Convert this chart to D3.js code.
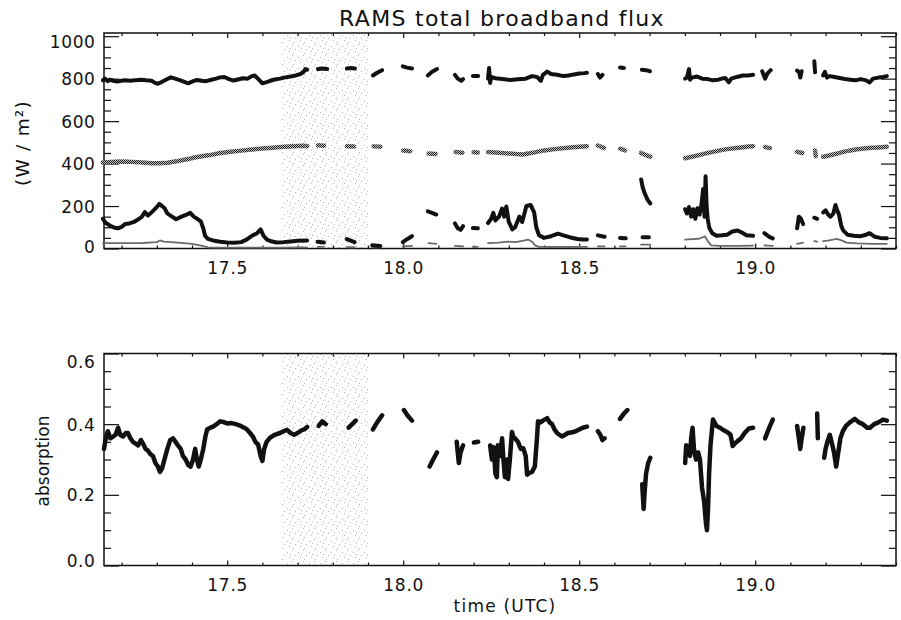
<!DOCTYPE html>
<html>
<head>
<meta charset="utf-8">
<script src="https://cdn.jsdelivr.net/npm/d3@7"></script>
<style>
  html, body { margin: 0; padding: 0; background: #fff; }
  svg { display: block; }
  text { font-family: "DejaVu Sans", sans-serif; fill: #111; }
</style>
</head>
<body>
<svg id="chart" width="901" height="620"></svg>
<script>
// Flux series as [hour UTC, W/m^2]; null marks a gap in the record.
const downAbove = [
  [17.147,792],[17.153,800],[17.161,788],[17.167,795],[17.176,790],[17.187,786],[17.195,789],[17.210,792],
  [17.225,790],[17.240,793],[17.255,795],[17.270,792],[17.285,790],[17.295,780],[17.303,776],[17.315,785],
  [17.330,798],[17.340,806],[17.352,800],[17.365,793],[17.378,785],[17.389,778],[17.400,786],[17.414,794],
  [17.428,790],[17.440,788],[17.455,795],[17.468,800],[17.480,806],[17.492,808],[17.505,798],[17.518,791],
  [17.530,796],[17.545,802],[17.558,800],[17.570,812],[17.578,815],[17.590,795],[17.600,778],[17.612,784],
  [17.622,790],[17.635,796],[17.650,800],[17.665,806],[17.680,810],[17.695,815],[17.708,822],[17.716,830],
  [17.722,845],[17.727,842],
  null,[17.758,845],[17.769,848],[17.784,845],
  null,[17.840,848],[17.852,850],[17.863,848],
  null,[17.914,815],[17.926,828],[17.940,840],
  null,[17.999,858],[18.011,852],[18.025,848],
  null,[18.070,815],[18.082,832],[18.096,845],
  null,[18.147,818],[18.155,800],[18.165,790],[18.170,798],
  null,[18.198,812],[18.213,812],
  null,[18.241,800],[18.244,850],[18.247,780],[18.250,808],[18.262,802],[18.282,798],[18.304,794],[18.326,797],
  [18.348,800],[18.366,812],[18.380,808],[18.391,790],[18.397,818],[18.409,833],[18.420,822],[18.437,818],
  [18.455,812],[18.470,815],[18.485,820],[18.500,824],[18.515,826],[18.522,828],
  null,[18.553,822],[18.559,805],[18.566,818],
  null,[18.616,852],[18.627,850],
  null,[18.678,842],[18.690,840],[18.701,835],
  null,[18.801,800],[18.806,805],[18.812,845],[18.815,795],[18.820,805],[18.835,810],[18.850,800],[18.865,798],
  [18.880,792],[18.895,795],[18.905,800],[18.915,803],[18.925,783],[18.932,800],[18.948,808],[18.965,815],
  [18.980,815],[18.994,818],
  null,[19.020,835],[19.028,800],[19.035,825],[19.044,840],
  null,[19.119,838],[19.125,830],[19.128,805],[19.132,835],
  null,[19.168,882],[19.170,830],
  null,[19.193,815],[19.198,832],[19.204,805],[19.212,812],[19.225,808],[19.240,803],[19.255,798],[19.270,795],
  [19.285,792],[19.300,798],[19.315,792],[19.325,782],[19.335,800],[19.350,805],[19.363,808],[19.374,812]
];

const downBelow = [
  [17.147,405],[17.170,408],[17.200,410],[17.230,408],[17.260,405],[17.285,402],[17.303,401],[17.330,404],
  [17.360,412],[17.386,420],[17.410,430],[17.451,440],[17.480,450],[17.510,456],[17.540,461],[17.570,466],
  [17.600,471],[17.630,475],[17.660,479],[17.690,482],[17.710,484],[17.727,483],
  null,[17.758,486],[17.775,484],
  null,[17.840,482],[17.860,480],
  null,[17.916,481],[17.935,479],
  null,[18.000,462],[18.020,458],
  null,[18.072,447],[18.092,445],
  null,[18.149,454],[18.168,451],
  null,[18.200,453],[18.212,452],
  null,[18.241,454],[18.260,452],[18.280,450],[18.300,448],[18.320,445],[18.340,443],[18.355,447],[18.380,455],
  [18.400,462],[18.430,468],[18.460,473],[18.490,478],[18.522,482],
  null,[18.553,485],[18.570,474],
  null,[18.616,470],[18.630,462],
  null,[18.676,450],[18.690,440],[18.702,432],
  null,[18.801,425],[18.820,432],[18.840,440],[18.860,448],[18.880,455],[18.900,462],[18.920,468],[18.940,472],
  [18.960,476],[18.980,480],[18.994,482],
  null,[19.028,478],[19.042,473],
  null,[19.119,455],[19.134,450],
  null,[19.170,462],[19.172,435],
  null,[19.193,432],[19.210,438],[19.230,446],[19.250,455],[19.270,462],[19.290,467],[19.310,471],[19.330,474],
  [19.350,476],[19.374,479]
];

const upAbove = [
  [17.147,140],[17.155,120],[17.167,108],[17.180,98],[17.190,95],[17.200,102],[17.210,115],[17.222,118],
  [17.235,125],[17.250,140],[17.258,150],[17.266,172],[17.275,155],[17.288,175],[17.300,195],[17.307,210],
  [17.315,200],[17.322,190],[17.330,165],[17.345,148],[17.355,138],[17.370,150],[17.385,160],[17.395,168],
  [17.405,150],[17.415,140],[17.425,128],[17.432,95],[17.437,60],[17.445,45],[17.460,38],[17.480,32],
  [17.500,28],[17.520,27],[17.540,30],[17.555,42],[17.570,60],[17.585,72],[17.595,90],[17.603,60],
  [17.613,42],[17.625,34],[17.640,28],[17.660,30],[17.680,33],[17.700,36],[17.727,38],
  null,[17.757,32],[17.775,28],
  null,[17.840,44],[17.862,30],
  null,[17.912,15],[17.935,12],
  null,[17.999,30],[18.012,45],[18.025,58],
  null,[18.070,175],[18.082,168],[18.094,160],
  null,[18.147,118],[18.155,95],[18.163,88],[18.170,105],
  null,[18.198,96],[18.212,95],
  null,[18.241,120],[18.250,140],[18.256,168],[18.262,132],[18.272,150],[18.281,188],[18.287,150],[18.293,198],
  [18.300,125],[18.310,90],[18.318,100],[18.330,150],[18.338,125],[18.350,200],[18.362,205],[18.372,170],
  [18.378,100],[18.386,62],[18.400,50],[18.420,58],[18.440,70],[18.455,62],[18.475,52],[18.495,45],
  [18.510,42],[18.522,42],
  null,[18.553,62],[18.572,55],
  null,[18.616,50],[18.632,48],
  null,[18.676,325],[18.680,290],[18.686,260],[18.694,230],[18.702,212],
  null,[18.680,53],[18.698,53],
  null,[18.801,185],[18.806,165],[18.812,195],[18.818,150],[18.824,185],[18.830,140],[18.836,190],[18.842,160],
  [18.848,215],[18.852,280],[18.856,150],[18.859,340],[18.862,200],[18.865,140],[18.870,95],[18.878,72],
  [18.890,60],[18.905,62],[18.920,65],[18.935,80],[18.950,85],[18.962,75],[18.975,62],[18.994,60],
  null,[19.026,72],[19.040,55],[19.050,48],
  null,[19.119,95],[19.124,150],[19.130,140],[19.136,115],
  null,[19.168,145],[19.176,140],
  null,[19.193,170],[19.200,180],[19.207,160],[19.214,150],[19.222,165],[19.228,205],[19.233,180],[19.238,160],
  [19.244,110],[19.250,85],[19.262,65],[19.280,60],[19.300,58],[19.315,65],[19.325,72],[19.340,55],
  [19.355,50],[19.374,48]
];

const upBelow = [
  [17.147,25],[17.200,25],[17.260,26],[17.300,30],[17.309,38],[17.320,32],[17.360,28],[17.400,22],
  [17.430,12],[17.445,5],[17.480,4],[17.550,4],[17.650,4],[17.727,5],
  null,[17.757,8],[17.775,8],
  null,[17.840,6],[17.862,6],
  null,[17.912,6],[17.935,6],
  null,[17.999,10],[18.025,12],
  null,[18.072,25],[18.094,22],
  null,[18.147,12],[18.170,10],
  null,[18.198,8],[18.212,8],
  null,[18.241,25],[18.270,28],[18.298,32],[18.320,30],[18.345,38],[18.355,42],[18.366,32],[18.375,15],
  [18.385,8],[18.420,7],[18.470,7],[18.522,8],
  null,[18.553,10],[18.572,10],
  null,[18.616,10],[18.632,10],
  null,[18.676,18],[18.702,18],
  null,[18.801,42],[18.820,44],[18.840,46],[18.850,52],[18.857,58],[18.865,35],[18.875,15],[18.900,12],
  [18.950,12],[18.994,14],
  null,[19.026,15],[19.050,12],
  null,[19.119,22],[19.136,28],
  null,[19.168,35],[19.176,32],
  null,[19.193,35],[19.210,38],[19.232,45],[19.245,38],[19.260,28],[19.290,24],[19.330,22],[19.374,22]
];

// Layer absorption as [hour UTC, fraction].
const absorption = [
  [17.150,0.33],[17.155,0.36],[17.161,0.38],[17.168,0.36],[17.176,0.365],[17.183,0.37],[17.190,0.39],[17.196,0.37],
  [17.204,0.365],[17.212,0.375],[17.218,0.375],[17.225,0.36],[17.232,0.35],[17.240,0.345],[17.247,0.34],[17.255,0.355],
  [17.261,0.345],[17.268,0.33],[17.275,0.325],[17.282,0.315],[17.289,0.31],[17.296,0.29],[17.303,0.28],[17.309,0.265],
  [17.315,0.275],[17.323,0.305],[17.330,0.33],[17.338,0.355],[17.346,0.36],[17.353,0.35],[17.360,0.34],[17.368,0.33],
  [17.374,0.31],[17.382,0.30],[17.389,0.285],[17.396,0.28],[17.403,0.30],[17.409,0.33],[17.414,0.30],[17.419,0.28],
  [17.425,0.30],[17.432,0.33],[17.438,0.365],[17.443,0.385],[17.452,0.39],[17.460,0.393],[17.470,0.40],[17.480,0.408],
  [17.490,0.406],[17.500,0.402],[17.512,0.403],[17.525,0.40],[17.536,0.396],[17.548,0.39],[17.556,0.385],[17.565,0.375],
  [17.573,0.365],[17.580,0.35],[17.588,0.342],[17.595,0.31],[17.600,0.296],[17.605,0.33],[17.612,0.35],[17.622,0.362],
  [17.635,0.37],[17.650,0.375],[17.660,0.38],[17.670,0.384],[17.680,0.375],[17.690,0.37],[17.700,0.375],[17.710,0.382],
  [17.720,0.386],[17.727,0.392],
  null,[17.760,0.395],[17.770,0.408],[17.780,0.40],
  null,[17.845,0.39],[17.855,0.40],[17.865,0.41],
  null,[17.914,0.385],[17.926,0.405],[17.940,0.425],
  null,[18.002,0.44],[18.012,0.425],[18.025,0.41],
  null,[18.075,0.28],[18.085,0.30],[18.096,0.32],
  null,[18.152,0.35],[18.158,0.29],[18.163,0.32],[18.170,0.34],
  null,[18.201,0.348],[18.213,0.35],
  null,[18.247,0.34],[18.252,0.30],[18.257,0.335],[18.262,0.26],[18.266,0.25],[18.269,0.34],[18.275,0.31],[18.281,0.36],
  [18.284,0.31],[18.289,0.25],[18.295,0.30],[18.298,0.245],[18.303,0.30],[18.309,0.378],[18.314,0.36],[18.318,0.36],
  [18.326,0.35],[18.334,0.33],[18.341,0.332],[18.348,0.31],[18.352,0.257],[18.358,0.262],[18.366,0.265],[18.374,0.28],
  [18.380,0.36],[18.383,0.408],[18.390,0.405],[18.397,0.41],[18.409,0.417],[18.416,0.405],[18.423,0.40],[18.430,0.385],
  [18.437,0.375],[18.451,0.365],[18.460,0.37],[18.468,0.375],[18.480,0.377],[18.490,0.38],[18.500,0.385],[18.510,0.39],
  [18.522,0.393],
  null,[18.553,0.38],[18.560,0.37],[18.566,0.355],[18.572,0.36],
  null,[18.616,0.415],[18.627,0.43],[18.637,0.44],
  null,[18.679,0.23],[18.683,0.16],[18.686,0.21],[18.690,0.26],[18.696,0.29],[18.702,0.305],
  null,[18.801,0.29],[18.804,0.34],[18.809,0.335],[18.815,0.31],[18.818,0.36],[18.822,0.39],[18.826,0.33],[18.832,0.30],
  [18.838,0.32],[18.843,0.30],[18.849,0.22],[18.855,0.18],[18.860,0.12],[18.863,0.10],[18.866,0.16],[18.869,0.26],
  [18.873,0.34],[18.880,0.413],[18.890,0.395],[18.900,0.39],[18.908,0.384],[18.920,0.378],[18.930,0.37],[18.936,0.338],
  [18.942,0.345],[18.950,0.352],[18.960,0.36],[18.970,0.375],[18.982,0.388],[18.994,0.39],
  null,[19.028,0.36],[19.040,0.39],[19.050,0.413],
  null,[19.119,0.395],[19.124,0.36],[19.128,0.33],[19.132,0.36],[19.137,0.39],
  null,[19.176,0.43],[19.178,0.36],
  null,[19.196,0.305],[19.200,0.33],[19.205,0.35],[19.212,0.37],[19.218,0.345],[19.224,0.32],[19.230,0.28],[19.236,0.32],
  [19.242,0.36],[19.249,0.38],[19.258,0.395],[19.269,0.405],[19.283,0.415],[19.295,0.405],[19.306,0.40],[19.318,0.39],
  [19.326,0.39],[19.338,0.40],[19.350,0.405],[19.363,0.413],[19.374,0.41]
];

// Axis ticks and the shaded interval (hours UTC).
const timeTicks = [17.5, 18.0, 18.5, 19.0];
const timeMinorTicks = [17.2,17.3,17.4,17.6,17.7,17.8,17.9,18.1,18.2,18.3,18.4,18.6,18.7,18.8,18.9,19.1,19.2,19.3,19.4];
const fluxTicks = [0, 200, 400, 600, 800, 1000];
const fluxMinorTicks = [50,100,150,250,300,350,450,500,550,650,700,750,850,900,950];
const absTicks = [0.0, 0.2, 0.4, 0.6];
const absMinorTicks = [0.05,0.1,0.15,0.25,0.3,0.35,0.45,0.5,0.55];
const shadedSpan = [17.656, 17.903];

const svg = d3.select("#chart");
const defs = svg.append("defs");

// Sparse grey stipple for the shaded interval.
const stip = defs.append("pattern").attr("id", "stipple")
  .attr("width", 11).attr("height", 11).attr("patternUnits", "userSpaceOnUse");
[[1,2],[6,0],[9,5],[3,7],[7,9],[4,4]].forEach(([px, py]) =>
  stip.append("rect").attr("x", px).attr("y", py).attr("width", 1).attr("height", 1).attr("fill", "#b4b4b4"));

// Dithered grey stroke for the lower downwelling trace.
const dith = defs.append("pattern").attr("id", "dither")
  .attr("width", 2).attr("height", 2).attr("patternUnits", "userSpaceOnUse");
dith.append("rect").attr("width", 2).attr("height", 2).attr("fill", "#bdbdbd");
dith.append("rect").attr("width", 1).attr("height", 1).attr("fill", "#222");
dith.append("rect").attr("x", 1).attr("y", 1).attr("width", 1).attr("height", 1).attr("fill", "#222");

const x = d3.scaleLinear().domain([17.15, 19.40]).range([104, 896]);
const yFlux = d3.scaleLinear().domain([0, 1015]).range([248.5, 33]);
const yAbs = d3.scaleLinear().domain([0, 0.6]).range([565.5, 353.5]);

function styleAxis(sel) {
  sel.select(".domain").remove();
  sel.selectAll("line").attr("stroke", "#111").attr("stroke-width", 1.2);
}

function labelText(sel, spacing) {
  sel.selectAll("text").attr("font-size", 17).attr("letter-spacing", spacing)
    .attr("font-family", "DejaVu Sans, sans-serif").attr("fill", "#111");
}

function panel(y, yTicks, yMinor, yFormat, labelShift) {
  const g = svg.append("g");
  const [yb, yt] = y.range();
  const [xl, xr] = x.range();

  // shaded interval
  g.append("rect").attr("x", x(shadedSpan[0])).attr("y", yt)
    .attr("width", x(shadedSpan[1]) - x(shadedSpan[0])).attr("height", yb - yt)
    .attr("fill", "url(#stipple)");

  const axes = g.append("g");

  // bottom axis with labels, top axis mirrored
  axes.append("g").attr("transform", `translate(0,${yb})`)
    .call(d3.axisBottom(x).tickValues(timeTicks).tickSizeInner(-5).tickSizeOuter(0).tickPadding(13)
      .tickFormat(d3.format(".1f")))
    .call(styleAxis).call(s => labelText(s, 0.8));
  axes.append("g").attr("transform", `translate(0,${yb})`)
    .call(d3.axisBottom(x).tickValues(timeMinorTicks).tickSizeInner(-3).tickSizeOuter(0).tickFormat(""))
    .call(styleAxis);
  axes.append("g").attr("transform", `translate(0,${yt})`)
    .call(d3.axisTop(x).tickValues(timeTicks).tickSizeInner(-5).tickSizeOuter(0).tickFormat(""))
    .call(styleAxis);
  axes.append("g").attr("transform", `translate(0,${yt})`)
    .call(d3.axisTop(x).tickValues(timeMinorTicks).tickSizeInner(-3).tickSizeOuter(0).tickFormat(""))
    .call(styleAxis);

  // left axis with labels, right axis mirrored
  const left = axes.append("g").attr("transform", `translate(${xl},0)`)
    .call(d3.axisLeft(y).tickValues(yTicks).tickSizeInner(-15).tickSizeOuter(0).tickPadding(8.5)
      .tickFormat(yFormat))
    .call(styleAxis).call(s => labelText(s, 0.6));
  left.selectAll("text").attr("dy", d => (labelShift[d] || 0) + 6);
  axes.append("g").attr("transform", `translate(${xl},0)`)
    .call(d3.axisLeft(y).tickValues(yMinor).tickSizeInner(-7).tickSizeOuter(0).tickFormat(""))
    .call(styleAxis);
  axes.append("g").attr("transform", `translate(${xr},0)`)
    .call(d3.axisRight(y).tickValues(yTicks).tickSizeInner(-15).tickSizeOuter(0).tickFormat(""))
    .call(styleAxis);
  axes.append("g").attr("transform", `translate(${xr},0)`)
    .call(d3.axisRight(y).tickValues(yMinor).tickSizeInner(-7).tickSizeOuter(0).tickFormat(""))
    .call(styleAxis);

  // plot frame
  g.append("rect").attr("x", xl).attr("y", yt).attr("width", xr - xl).attr("height", yb - yt)
    .attr("fill", "none").attr("stroke", "#111").attr("stroke-width", 1.5);
  return g;
}

const topPanel = panel(yFlux, fluxTicks, fluxMinorTicks, d3.format("d"), { 1000: 5, 0: -2 });
const botPanel = panel(yAbs, absTicks, absMinorTicks, d3.format(".1f"), { 0.6: 8, 0: -5 });

function trace(g, data, y, stroke, width) {
  const line = d3.line().defined(d => d != null).x(d => x(d[0])).y(d => y(d[1]));
  g.append("path").datum(data).attr("d", line)
    .attr("fill", "none").attr("stroke", stroke).attr("stroke-width", width)
    .attr("stroke-linejoin", "round").attr("stroke-linecap", "round");
}

trace(topPanel, upBelow, yFlux, "#6a6a6a", 1.8);
trace(topPanel, downBelow, yFlux, "url(#dither)", 4.5);
trace(topPanel, upAbove, yFlux, "#111", 4);
trace(topPanel, downAbove, yFlux, "#111", 4);
trace(botPanel, absorption, yAbs, "#111", 4.5);

// title and axis names
svg.append("text").attr("x", 502).attr("y", 26).attr("text-anchor", "middle")
  .attr("font-size", 22).attr("letter-spacing", 1.3).text("RAMS total broadband flux");
svg.append("text").attr("x", 505).attr("y", 612).attr("text-anchor", "middle")
  .attr("font-size", 17).attr("letter-spacing", 1.2).text("time (UTC)");
svg.append("text").attr("transform", "translate(29,143) rotate(-90)").attr("text-anchor", "middle")
  .attr("font-size", 18.5).attr("letter-spacing", 1.2).text("(W / m²)");
svg.append("text").attr("transform", "translate(49,461) rotate(-90)").attr("text-anchor", "middle")
  .attr("font-size", 17).text("absorption");
</script>
</body>
</html>
